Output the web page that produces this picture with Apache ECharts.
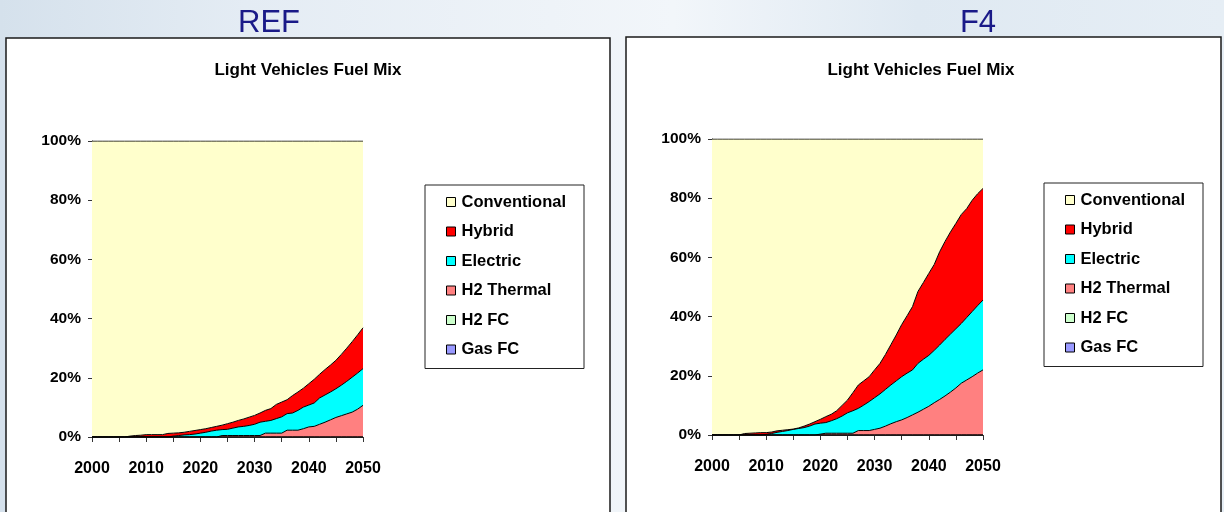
<!DOCTYPE html>
<html>
<head>
<meta charset="utf-8">
<script src="https://cdn.jsdelivr.net/npm/echarts@6/dist/echarts.min.js"></script>
<style>
html, body { margin: 0; padding: 0; width: 1224px; height: 512px; overflow: hidden; }
body {
  background: linear-gradient(90deg, #d5e1ec 0%, #e4ecf4 20%, #eef3f8 45%, #f2f6fa 55%, #dfe9f2 75%, #e6eef5 100%);
}
#chart { width: 1224px; height: 512px; }
</style>
</head>
<body>
<div id="chart"></div>
<script>
// Years on the horizontal axis
const years = [
  '2000','2001','2002','2003','2004','2005','2006','2007','2008','2009',
  '2010','2011','2012','2013','2014','2015','2016','2017','2018','2019',
  '2020','2021','2022','2023','2024','2025','2026','2027','2028','2029',
  '2030','2031','2032','2033','2034','2035','2036','2037','2038','2039',
  '2040','2041','2042','2043','2044','2045','2046','2047','2048','2049','2050'
];

const fuelNames = ['Conventional', 'Hybrid', 'Electric', 'H2 Thermal', 'H2 FC', 'Gas FC'];
const panelNames = ['REF', 'F4'];

// REF scenario, share of light vehicles (%)
const refConventional = [
  100,100,100,100,100,100,100,99.7,99.5,99.4,
  99.2,99.2,99.2,99.2,98.8,98.7,98.6,98.4,98.1,97.8,
  97.5,97.2,96.8,96.4,96.0,95.5,95.0,94.4,93.9,93.3,
  92.7,91.9,91.0,90.4,89.0,88.2,87.4,86.0,84.8,83.5,
  82.0,80.5,78.8,77.2,75.7,74.1,72.1,70.0,67.8,65.5,63.1
];
const refHybrid = [
  0,0,0,0,0,0,0,0.3,0.5,0.6,
  0.8,0.8,0.8,0.8,1.2,1.0,0.9,0.9,1.1,1.2,
  1.2,1.2,1.2,1.3,1.5,1.9,2.0,2.2,2.5,2.8,
  3.0,3.1,3.7,4.0,4.8,5.0,4.7,5.9,6.2,6.4,
  7.2,8.0,8.0,8.6,9.1,9.6,10.4,11.2,12.0,12.9,13.8
];
const refElectric = [
  0,0,0,0,0,0,0,0,0,0,
  0,0,0,0,0,0.3,0.5,0.7,0.8,1.0,
  1.3,1.6,2.0,2.3,2.0,2.1,2.5,2.9,3.1,3.4,
  3.8,4.5,4.0,4.3,4.9,5.5,5.6,5.8,6.7,7.3,
  7.4,7.9,8.9,9.2,9.4,9.7,10.3,11.0,11.8,12.2,12.4
];
const refH2Thermal = [
  0,0,0,0,0,0,0,0,0,0,
  0,0,0,0,0,0,0,0,0,0,
  0,0,0,0,0.5,0.5,0.5,0.5,0.5,0.5,
  0.5,0.5,1.3,1.3,1.3,1.3,2.3,2.3,2.3,2.8,
  3.4,3.6,4.3,5.0,5.8,6.6,7.2,7.8,8.4,9.4,10.7
];
const refH2FC = [
  0,0,0,0,0,0,0,0,0,0, 0,0,0,0,0,0,0,0,0,0, 0,0,0,0,0,0,0,0,0,0,
  0,0,0,0,0,0,0,0,0,0, 0,0,0,0,0,0,0,0,0,0,0
];
const refGasFC = [
  0,0,0,0,0,0,0,0,0,0, 0,0,0,0,0,0,0,0,0,0, 0,0,0,0,0,0,0,0,0,0,
  0,0,0,0,0,0,0,0,0,0, 0,0,0,0,0,0,0,0,0,0,0
];

// F4 scenario, share of light vehicles (%)
const f4Conventional = [
  100,100,100,100,100,100,99.5,99.4,99.3,99.2,
  99.2,99.0,98.6,98.4,98.2,98.0,97.6,97.0,96.3,95.5,
  94.7,93.8,93.0,91.8,90.0,88.2,85.7,83.1,81.7,80.3,
  78.0,75.8,72.8,69.5,66.2,62.7,59.7,56.6,51.5,48.5,
  45.4,42.4,38.1,34.6,31.4,28.5,25.5,23.5,20.7,18.5,16.7
];
const f4Hybrid = [
  0,0,0,0,0,0,0.5,0.6,0.7,0.8,
  0.6,0.5,0.5,0.4,0.3,0.1,0.2,0.5,0.7,0.8,
  1.3,2.0,2.2,2.7,3.6,4.3,6.1,7.9,8.2,8.4,
  9.4,10.3,11.8,13.6,15.5,17.6,19.4,21.4,24.3,25.9,
  27.7,29.0,31.5,33.1,34.5,35.6,36.8,36.8,37.6,37.8,37.7
];
const f4Electric = [
  0,0,0,0,0,0,0,0,0,0,
  0.2,0.5,0.9,1.2,1.5,1.9,2.2,2.5,3.0,3.7,
  3.7,3.6,4.2,4.9,5.8,6.9,7.6,7.5,8.6,9.8,
  10.7,11.6,12.4,13.1,13.8,14.6,15.0,15.2,16.5,16.9,
  17.2,17.7,18.4,19.1,19.6,20.0,20.2,21.1,22.0,22.8,23.6
];
const f4H2Thermal = [
  0,0,0,0,0,0,0,0,0,0,
  0,0,0,0,0,0,0,0,0,0,
  0.3,0.6,0.6,0.6,0.6,0.6,0.6,1.5,1.5,1.5,
  1.9,2.3,3.0,3.8,4.5,5.1,5.9,6.8,7.7,8.7,
  9.7,10.9,12.0,13.2,14.5,15.9,17.5,18.6,19.7,20.9,22.0
];
const f4H2FC = [
  0,0,0,0,0,0,0,0,0,0, 0,0,0,0,0,0,0,0,0,0, 0,0,0,0,0,0,0,0,0,0,
  0,0,0,0,0,0,0,0,0,0, 0,0,0,0,0,0,0,0,0,0,0
];
const f4GasFC = [
  0,0,0,0,0,0,0,0,0,0, 0,0,0,0,0,0,0,0,0,0, 0,0,0,0,0,0,0,0,0,0,
  0,0,0,0,0,0,0,0,0,0, 0,0,0,0,0,0,0,0,0,0,0
];

const fuelColors = {
  'Conventional': '#FFFFCC',
  'Hybrid': '#FF0000',
  'Electric': '#00FFFF',
  'H2 Thermal': '#FF8080',
  'H2 FC': '#CCFFCC',
  'Gas FC': '#9999FF'
};

const SANS = "'Liberation Sans', Arial, Helvetica, sans-serif";

// stacked from the bottom up
const panels = [
  { name: 'REF', grid: { left: 92, top: 141, width: 271, height: 296 }, legend: { left: 425, top: 185 },
    box: { x: 6, y: 38, w: 604, h: 490 }, center: 308, head: 269,
    stack: [['Gas FC', refGasFC], ['H2 FC', refH2FC], ['H2 Thermal', refH2Thermal],
            ['Electric', refElectric], ['Hybrid', refHybrid], ['Conventional', refConventional]] },
  { name: 'F4', grid: { left: 712, top: 139, width: 271, height: 296 }, legend: { left: 1044, top: 183 },
    box: { x: 626, y: 37, w: 595, h: 490 }, center: 921, head: 978,
    stack: [['Gas FC', f4GasFC], ['H2 FC', f4H2FC], ['H2 Thermal', f4H2Thermal],
            ['Electric', f4Electric], ['Hybrid', f4Hybrid], ['Conventional', f4Conventional]] }
];

const grids = [], xAxes = [], yAxes = [], series = [], legends = [], graphics = [];

panels.forEach((p, i) => {
  // panel frame, heading and chart title
  graphics.push({
    type: 'rect', z: -10, silent: true,
    shape: { x: p.box.x, y: p.box.y, width: p.box.w, height: p.box.h },
    style: { fill: '#ffffff', stroke: '#1a1a1a', lineWidth: 1.5 }
  });
  graphics.push({
    type: 'text', silent: true,
    style: { x: p.head, y: 23, text: p.name, textAlign: 'center', textVerticalAlign: 'middle',
      font: 'normal 31px ' + SANS, fill: '#1a1a88' }
  });
  graphics.push({
    type: 'text', silent: true,
    style: { x: p.center, y: 70, text: 'Light Vehicles Fuel Mix', textAlign: 'center', textVerticalAlign: 'middle',
      font: 'bold 17px ' + SANS, fill: '#000' }
  });

  grids.push(Object.assign({ containLabel: false, show: false }, p.grid));

  xAxes.push({
    type: 'category', gridIndex: i, data: years, boundaryGap: false,
    axisLine: { lineStyle: { color: '#333', width: 1 } },
    axisTick: { show: true, interval: 4, length: 5, lineStyle: { color: '#333' } },
    axisLabel: { interval: 9, margin: 24, color: '#000', fontFamily: SANS, fontWeight: 'bold', fontSize: 16 },
    splitLine: { show: false }
  });
  yAxes.push({
    type: 'value', gridIndex: i, min: 0, max: 100, interval: 20,
    axisLine: { show: true, lineStyle: { color: '#333', width: 1 } },
    axisTick: { show: true, length: 4, lineStyle: { color: '#333' } },
    axisLabel: { formatter: '{value}%', margin: 11, color: '#000', fontFamily: SANS, fontWeight: 'bold', fontSize: 15.5 },
    splitLine: { show: false }
  });

  p.stack.forEach(([name, values]) => {
    series.push({
      type: 'line', name: name, xAxisIndex: i, yAxisIndex: i, stack: 'mix' + i,
      data: values, showSymbol: false, symbol: 'none', smooth: false,
      itemStyle: { color: fuelColors[name] },
      lineStyle: { color: '#000', width: 1 },
      areaStyle: { color: fuelColors[name], opacity: 1 },
      emphasis: { disabled: true }, animation: false
    });
  });

  legends.push({
    orient: 'vertical', left: p.legend.left, top: p.legend.top,
    data: fuelNames, icon: 'rect', selectedMode: false,
    backgroundColor: '#ffffff', borderColor: '#222', borderWidth: 1,
    padding: [7, 18, 9, 21],
    itemWidth: 9, itemHeight: 9, itemGap: 9.5,
    itemStyle: { borderColor: '#000', borderWidth: 1 },
    textStyle: { color: '#000', fontFamily: SANS, fontWeight: 'bold', fontSize: 16.5, lineHeight: 20,
      padding: [0, 0, 0, 1] }
  });
});

const chart = echarts.init(document.getElementById('chart'), null, { renderer: 'canvas' });
chart.setOption({
  backgroundColor: 'transparent',
  animation: false,
  grid: grids,
  xAxis: xAxes,
  yAxis: yAxes,
  legend: legends,
  series: series,
  graphic: graphics
});
</script>
</body>
</html>
